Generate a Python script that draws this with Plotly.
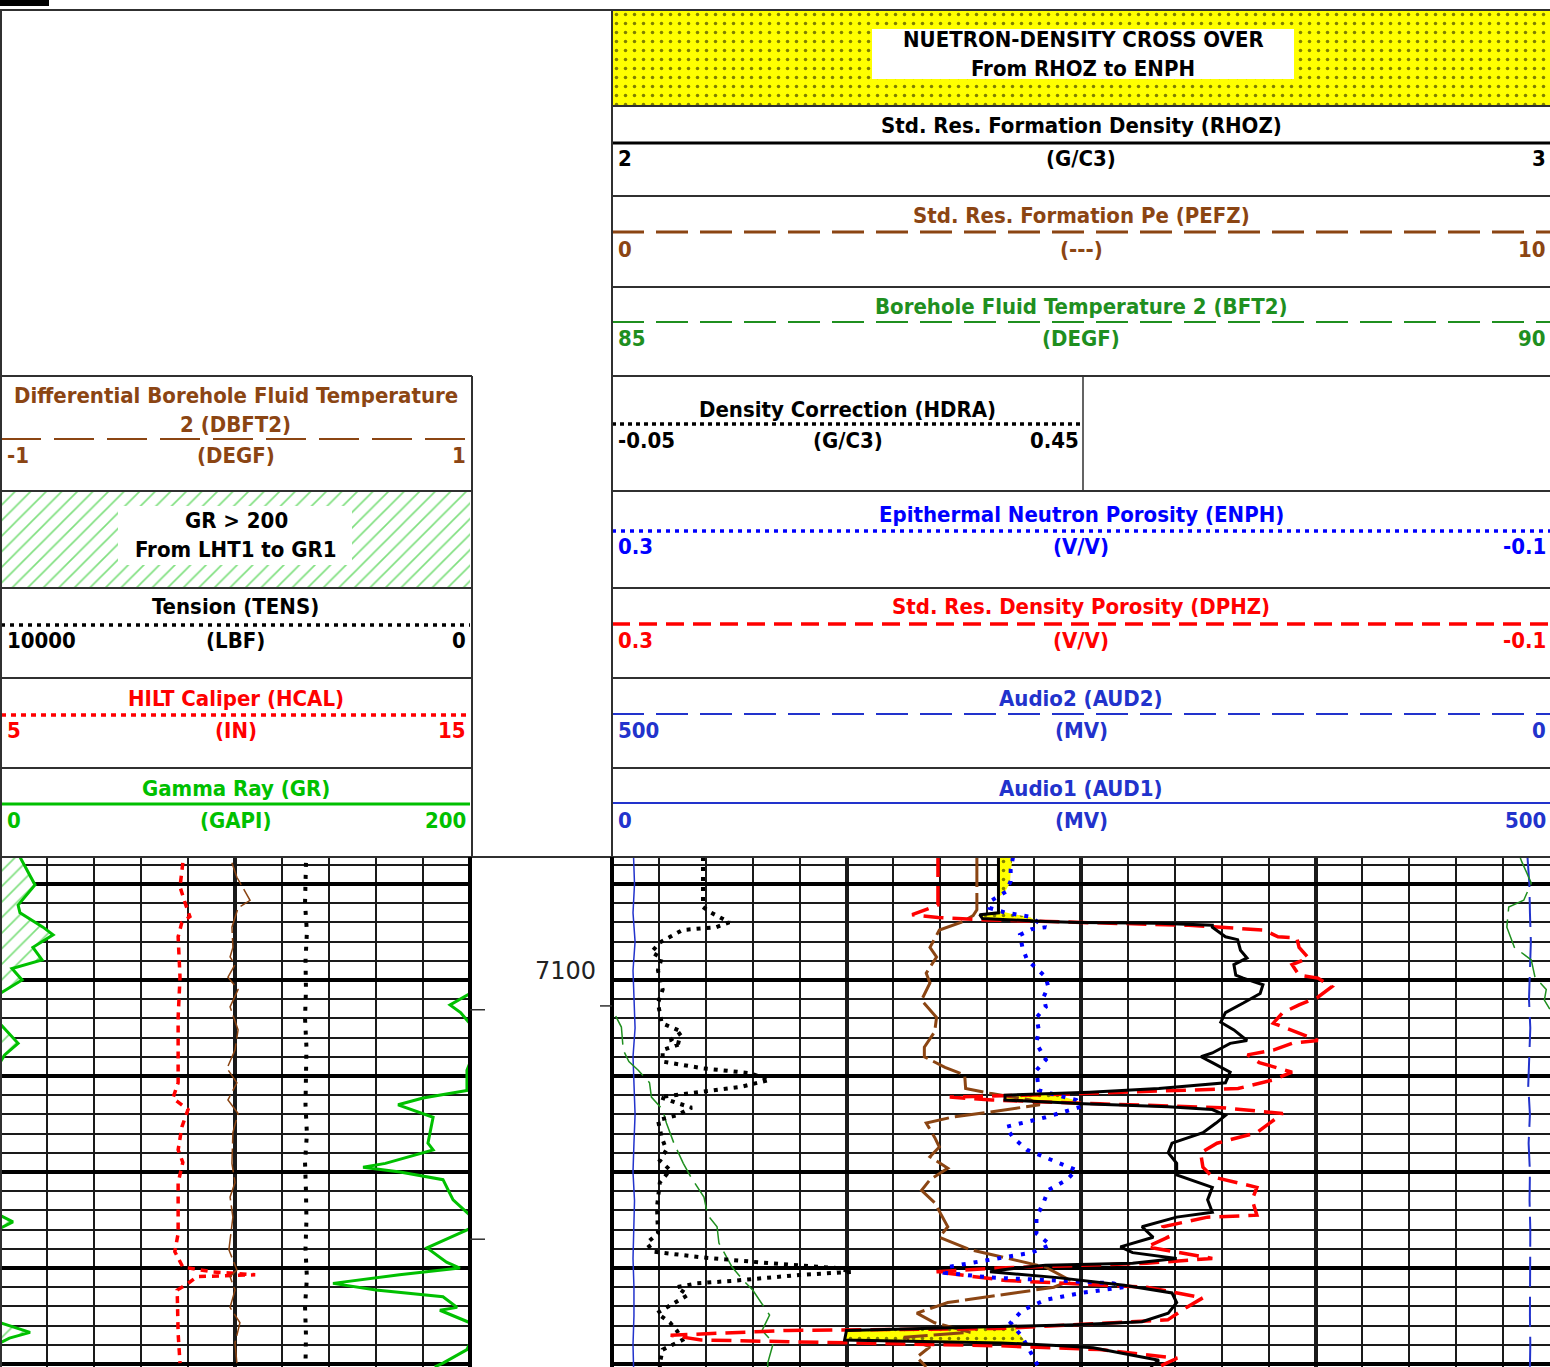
import numpy as np
import plotly.graph_objects as go

# ---------------------------------------------------------------------------
# Log curves: (depth ft, value) samples
# ---------------------------------------------------------------------------
GR_LOG = [(7087.2, 208.5), (7087.8, 209.8), (7090.1, 214.9), (7092.2, 207.7), (7093.0, 208.5),
          (7094.5, 218.3), (7095.3, 222.6), (7096.6, 214.0), (7097.9, 217.9), (7098.8, 205.1),
          (7100.0, 209.4), (7101.4, 200.0), (7102.1, 195.0), (7102.6, 191.5), (7103.4, 196.0),
          (7104.7, 200.5), (7106.6, 207.7), (7107.8, 202.0), (7108.6, 200.0), (7109.4, 198.7),
          (7111.5, 198.7), (7112.3, 180.0), (7113.0, 169.4), (7114.3, 184.3), (7117.0, 182.1),
          (7117.7, 184.3), (7119.1, 164.0), (7119.5, 154.5), (7120.0, 170.2), (7120.8, 188.5),
          (7122.9, 192.8), (7124.5, 200.0), (7125.2, 205.5), (7126.0, 199.0), (7127.9, 181.7),
          (7129.4, 190.0), (7130.0, 195.7), (7130.7, 170.0), (7131.6, 141.7), (7132.3, 160.0),
          (7133.0, 188.5), (7134.1, 194.5), (7134.4, 187.2), (7135.7, 200.0), (7136.7, 212.8),
          (7137.3, 204.0), (7137.8, 200.0), (7138.5, 198.7), (7139.9, 188.5), (7140.3, 185.0)]

HCAL_LOG = [(7087.8, 8.89), (7090.3, 8.83), (7092.0, 8.94), (7093.4, 9.04), (7094.0, 8.87),
            (7095.5, 8.79), (7099.7, 8.83), (7103.9, 8.79), (7110.7, 8.79), (7112.3, 8.68),
            (7113.5, 9.00), (7115.3, 8.87), (7117.7, 8.79), (7119.0, 8.89), (7121.1, 8.79),
            (7126.4, 8.79), (7128.3, 8.72), (7129.9, 8.89), (7130.4, 9.53), (7130.7, 10.43),
            (7130.9, 9.19), (7131.6, 9.00), (7132.3, 8.77), (7136.8, 8.79), (7139.9, 8.83)]

DBFT2_LOG = [(7087.8, -0.013), (7089.3, 0.008), (7091.7, 0.064), (7092.5, 0.013), (7094.5, -0.013),
             (7096.6, -0.009), (7097.6, -0.021), (7098.4, 0.0), (7099.7, -0.030), (7101.0, 0.013),
             (7102.8, -0.021), (7105.2, 0.013), (7107.3, 0.0), (7109.2, -0.034), (7110.7, 0.008),
             (7112.5, -0.030), (7113.9, 0.013), (7115.9, -0.009), (7119.1, -0.013), (7121.1, 0.0),
             (7122.6, -0.021), (7124.7, -0.009), (7128.1, -0.026), (7130.2, 0.008), (7130.9, -0.021),
             (7132.3, 0.0), (7134.1, -0.021), (7135.7, 0.021), (7137.8, 0.0), (7139.9, 0.008)]

TENS_LOG = [(7087.8, 3490), (7092.0, 3510), (7095.0, 3470), (7098.0, 3500), (7101.0, 3490),
            (7104.0, 3510), (7107.0, 3480), (7110.0, 3490), (7113.0, 3500), (7116.0, 3470),
            (7119.0, 3510), (7122.0, 3490), (7125.0, 3480), (7128.0, 3500), (7131.0, 3470),
            (7134.0, 3510), (7137.0, 3490), (7140.0, 3500)]

RHOZ_LOG = [(7087.2, 2.412), (7093.0, 2.412), (7093.2, 2.392), (7093.6, 2.395), (7093.9, 2.462),
            (7094.0, 2.499), (7094.1, 2.583), (7094.3, 2.640), (7094.5, 2.640), (7095.5, 2.654),
            (7095.8, 2.667), (7096.9, 2.670), (7097.7, 2.677), (7098.4, 2.663), (7099.5, 2.665),
            (7099.8, 2.673), (7100.5, 2.694), (7101.4, 2.691), (7102.4, 2.673), (7103.4, 2.654),
            (7104.4, 2.649), (7105.2, 2.663), (7106.3, 2.677), (7106.6, 2.659), (7107.6, 2.640),
            (7108.0, 2.628), (7108.6, 2.640), (7109.6, 2.659), (7110.7, 2.654), (7111.3, 2.583),
            (7111.7, 2.509), (7112.0, 2.419), (7112.5, 2.419), (7112.9, 2.503), (7113.2, 2.593),
            (7113.5, 2.640), (7114.1, 2.654), (7114.9, 2.644), (7115.9, 2.630), (7117.0, 2.597),
            (7118.0, 2.593), (7119.1, 2.602), (7120.3, 2.602), (7121.6, 2.640), (7122.9, 2.635),
            (7124.2, 2.640), (7124.7, 2.602), (7125.7, 2.565), (7126.8, 2.577), (7127.8, 2.542),
            (7128.4, 2.555), (7129.0, 2.602), (7129.5, 2.555), (7129.7, 2.462), (7130.2, 2.415),
            (7130.4, 2.403), (7131.0, 2.475), (7131.8, 2.546), (7132.6, 2.597), (7133.6, 2.602),
            (7134.7, 2.593), (7135.6, 2.565), (7135.9, 2.495), (7136.3, 2.311), (7136.5, 2.250),
            (7137.5, 2.248), (7137.8, 2.415), (7138.1, 2.479), (7138.3, 2.513), (7139.6, 2.583),
            (7140.3, 2.574)]

ENPH_LOG = [(7087.2, 0.129), (7088.5, 0.130), (7089.7, 0.130), (7090.8, 0.132), (7091.7, 0.138),
            (7092.5, 0.139), (7093.0, 0.132), (7093.2, 0.127), (7093.4, 0.122), (7094.5, 0.115),
            (7094.7, 0.121), (7095.3, 0.126), (7096.6, 0.125), (7097.9, 0.123), (7098.8, 0.119),
            (7099.7, 0.115), (7100.7, 0.114), (7101.8, 0.116), (7102.8, 0.115), (7103.9, 0.119),
            (7105.2, 0.118), (7106.6, 0.119), (7108.3, 0.115), (7109.4, 0.119), (7111.5, 0.118),
            (7112.5, 0.102), (7113.2, 0.100), (7114.3, 0.115), (7115.3, 0.132), (7116.4, 0.129),
            (7117.7, 0.123), (7118.8, 0.112), (7119.8, 0.102), (7120.8, 0.106), (7121.9, 0.114),
            (7123.2, 0.116), (7124.7, 0.119), (7126.4, 0.119), (7127.6, 0.113), (7128.4, 0.121),
            (7129.2, 0.140), (7129.9, 0.157), (7130.5, 0.158), (7131.0, 0.138), (7131.3, 0.110),
            (7131.6, 0.086), (7132.0, 0.082), (7132.6, 0.100), (7133.3, 0.115), (7134.4, 0.125),
            (7135.7, 0.130), (7137.2, 0.125), (7139.9, 0.119), (7140.3, 0.118)]

DPHZ_LOG = [(7087.2, 0.161), (7092.2, 0.161), (7093.2, 0.172), (7093.5, 0.161), (7093.75, 0.140),
            (7094.0, 0.100), (7094.3, 0.054), (7094.8, 0.022), (7095.5, 0.016), (7095.6, 0.008),
            (7096.6, 0.007), (7097.7, 0.003), (7098.4, 0.010), (7099.5, 0.007), (7099.8, -0.001),
            (7100.7, -0.007), (7101.8, -0.001), (7102.6, 0.007), (7103.4, 0.014), (7104.5, 0.018),
            (7105.5, 0.007), (7106.3, -0.001), (7106.6, 0.010), (7107.3, 0.018), (7107.8, 0.029),
            (7108.6, 0.024), (7109.6, 0.010), (7110.4, 0.018), (7111.3, 0.033), (7111.5, 0.055),
            (7111.9, 0.109), (7112.2, 0.156), (7112.5, 0.138), (7112.9, 0.092), (7113.3, 0.040),
            (7113.9, 0.014), (7114.6, 0.018), (7115.9, 0.025), (7117.0, 0.042), (7118.0, 0.049),
            (7119.5, 0.048), (7120.5, 0.044), (7121.6, 0.025), (7122.9, 0.027), (7124.5, 0.025),
            (7124.7, 0.046), (7125.7, 0.065), (7126.8, 0.063), (7127.8, 0.072), (7129.0, 0.044),
            (7129.5, 0.072), (7130.0, 0.135), (7130.4, 0.162), (7130.7, 0.152), (7131.3, 0.132),
            (7132.0, 0.072), (7133.1, 0.048), (7134.1, 0.055), (7135.4, 0.063), (7135.7, 0.086),
            (7136.3, 0.135), (7136.5, 0.225), (7137.0, 0.275), (7137.5, 0.262), (7137.8, 0.199),
            (7138.1, 0.135), (7138.5, 0.092), (7139.4, 0.059), (7140.3, 0.067)]

PEFZ_LOG = [(7087.2, 3.89), (7092.7, 3.89), (7093.3, 3.85), (7094.0, 3.72), (7094.8, 3.49),
            (7096.6, 3.39), (7097.6, 3.46), (7099.3, 3.35), (7100.3, 3.39), (7102.1, 3.30),
            (7103.9, 3.46), (7105.4, 3.44), (7107.0, 3.33), (7108.0, 3.33), (7109.1, 3.55),
            (7109.9, 3.76), (7111.3, 3.77), (7111.8, 4.03), (7112.5, 4.46), (7113.0, 4.56),
            (7113.75, 4.03), (7114.3, 3.62), (7114.9, 3.35), (7116.4, 3.44), (7117.4, 3.49),
            (7118.4, 3.39), (7119.6, 3.58), (7120.8, 3.39), (7121.9, 3.30), (7123.2, 3.44),
            (7125.7, 3.58), (7126.8, 3.49), (7128.1, 3.82), (7129.2, 4.29), (7129.9, 4.62),
            (7131.3, 4.89), (7132.0, 4.71), (7132.6, 4.29), (7133.6, 3.58), (7134.7, 3.25),
            (7135.7, 3.44), (7136.7, 3.82), (7137.2, 3.11), (7138.2, 3.39), (7139.3, 3.25),
            (7140.3, 3.35)]

HDRA_LOG = [(7087.2, 0.047), (7092.4, 0.047), (7092.9, 0.054), (7094.0, 0.075), (7094.5, 0.061),
            (7094.6, 0.047), (7094.8, 0.025), (7095.5, 0.012), (7096.1, 0.001), (7097.1, -0.008),
            (7097.7, 0.003), (7099.0, -0.001), (7100.0, 0.001), (7101.0, 0.004), (7102.4, -0.001),
            (7104.5, 0.003), (7105.4, 0.025), (7106.3, 0.012), (7106.6, 0.025), (7107.3, 0.004),
            (7108.5, 0.004), (7109.2, 0.047), (7109.7, 0.097), (7110.4, 0.118), (7111.1, 0.089),
            (7111.7, 0.040), (7112.2, 0.001), (7112.8, 0.019), (7113.3, 0.035), (7114.1, 0.019),
            (7114.6, -0.001), (7116.4, 0.003), (7117.7, 0.008), (7118.8, 0.001), (7119.8, 0.012),
            (7121.1, 0.001), (7123.6, -0.002), (7126.4, -0.001), (7127.4, -0.013), (7128.3, -0.006),
            (7128.9, 0.047), (7129.5, 0.118), (7130.0, 0.189), (7130.4, 0.206), (7130.7, 0.153),
            (7131.3, 0.083), (7131.6, 0.040), (7132.0, 0.019), (7132.8, 0.031), (7133.9, 0.012),
            (7134.7, -0.002), (7135.7, 0.012), (7136.5, 0.019), (7137.5, 0.025), (7138.5, 0.004),
            (7139.9, 0.001), (7140.3, 0.001)]

BFT2_LOG = [(7087.2, 89.84), (7087.7, 89.85), (7089.9, 89.90), (7091.7, 89.86), (7092.4, 89.78),
            (7094.5, 89.77), (7096.6, 89.81), (7097.9, 89.90), (7099.7, 89.92), (7101.0, 89.98),
            (7102.1, 89.97), (7103.4, 90.01), (7104.9, 90.05), (7107.3, 90.06), (7108.5, 90.09),
            (7109.4, 90.14), (7110.7, 90.20), (7112.2, 90.21), (7113.5, 90.27), (7114.9, 90.29),
            (7117.0, 90.33), (7119.1, 90.38), (7120.5, 90.42), (7122.6, 90.49), (7124.5, 90.51),
            (7125.7, 90.56), (7127.4, 90.57), (7129.9, 90.64), (7131.3, 90.70), (7132.3, 90.75),
            (7134.9, 90.84), (7136.5, 90.80), (7137.8, 90.86), (7139.9, 90.83), (7140.3, 90.83)]

AUD1_LOG = [(7087.2, 11.5), (7090.0, 12.0), (7093.0, 11.2), (7096.0, 12.3), (7099.0, 11.2),
            (7102.0, 11.7), (7105.0, 12.3), (7108.0, 11.2), (7111.0, 11.7), (7114.0, 12.3),
            (7117.0, 11.7), (7120.0, 11.2), (7123.0, 12.0), (7126.0, 11.7), (7129.0, 11.2),
            (7132.0, 11.7), (7135.0, 11.7), (7138.0, 11.2), (7140.3, 11.5)]

AUD2_LOG = [(7087.2, 12.0), (7090.0, 11.0), (7093.0, 10.7), (7096.0, 10.2), (7099.0, 10.7),
            (7102.0, 11.2), (7105.0, 10.5), (7108.0, 10.9), (7111.0, 11.6), (7114.0, 10.7),
            (7117.0, 11.4), (7120.0, 10.7), (7123.0, 10.9), (7126.0, 10.5), (7129.0, 10.7),
            (7132.0, 10.9), (7135.0, 10.7), (7138.0, 10.5), (7140.3, 10.7)]

DEPTH_LABELS = [7100]
DEPTH_MARKS = [7103.1, 7127.0]       # marks on the left edge of the depth column
DEPTH_MARKS_R = [7102.7]             # marks on the right edge of the depth column

# track scales
GR_RANGE = (0, 200)
HCAL_RANGE = (5, 15)
DBFT2_RANGE = (-1, 1)
TENS_RANGE = (10000, 0)
RHOZ_RANGE = (2, 3)
PEFZ_RANGE = (0, 10)
BFT2_RANGE = (85, 90)
HDRA_RANGE = (-0.05, 0.45)
ENPH_RANGE = (0.3, -0.1)
DPHZ_RANGE = (0.3, -0.1)
AUD2_RANGE = (500, 0)
AUD1_RANGE = (0, 500)

# ---------------------------------------------------------------------------
W, H = 1550, 1367
FONT = "DejaVu Sans Condensed"
DEPTH_FONT = "DejaVu Sans, Liberation Sans, Arial, sans-serif"
BLACK = "#000000"
BROWN = "#8B4513"
GREEN = "#00C000"
DKGREEN = "#1F8F1F"
RED = "#FF0000"
BLUE = "#0000FF"
AUDBLUE = "#2233CC"
FRAME = "#303030"
GRID = "#1a1a1a"


def px(x):
    return x / W


def py(y):
    return 1 - y / H


def unzip(pairs):
    d, v = zip(*pairs)
    return np.array(d, float), np.array(v, float)


DEPTH_TOP, DEPTH_BOT = 7087.19, 7140.31
LEFT_DOM = [0.0, px(470)]
RIGHT_DOM = [px(612), 1.0]
LOG_DOM = [0.0, py(857)]

fig = go.Figure()
layout = {}

# base axes carry the grid of each track
base_x = dict(showticklabels=False, ticks="", zeroline=False, showline=False,
              showgrid=True, gridcolor=GRID, gridwidth=4, dtick=5, tick0=0,
              minor=dict(dtick=1, tick0=0, showgrid=True, gridcolor=GRID, gridwidth=2, ticks=""),
              fixedrange=True, anchor="y")
layout["xaxis"] = dict(base_x, domain=LEFT_DOM, range=[0, 10])
layout["xaxis2"] = dict(base_x, domain=RIGHT_DOM, range=[0, 20])
layout["yaxis"] = dict(domain=LOG_DOM, range=[DEPTH_BOT, DEPTH_TOP], showticklabels=False,
                       ticks="", zeroline=False, showline=False, showgrid=True,
                       gridcolor="black", gridwidth=4, dtick=10, tick0=7100,
                       minor=dict(dtick=2, tick0=7100, showgrid=True, gridcolor=GRID,
                                  gridwidth=2, ticks=""),
                       anchor="x", fixedrange=True)
for xa in ("x", "x2"):
    fig.add_trace(go.Scatter(x=[None], y=[None], xaxis=xa, yaxis="y", mode="lines",
                             hoverinfo="skip", showlegend=False))

axis_n = [3]


def curve_axis(rng, dom):
    """A stacked x/y axis pair over a track, sharing the depth scale."""
    axis_n[0] += 1
    n = axis_n[0]
    layout[f"xaxis{n}"] = dict(range=list(rng), domain=dom, visible=False, showgrid=False,
                               zeroline=False, anchor=f"y{n}", fixedrange=True)
    layout[f"yaxis{n}"] = dict(range=[DEPTH_BOT, DEPTH_TOP], domain=LOG_DOM, visible=False,
                               showgrid=False, zeroline=False, anchor=f"x{n}", fixedrange=True)
    return f"x{n}", f"y{n}"


def add_curve(axes, pairs, color, width, dash="solid", **kw):
    d, v = unzip(pairs)
    fig.add_trace(go.Scatter(x=v, y=d, xaxis=axes[0], yaxis=axes[1], mode="lines",
                             line=dict(color=color, width=width, dash=dash),
                             hoverinfo="skip", showlegend=False, **kw))


# ---------------- left track ----------------
add_curve(curve_axis((GR_RANGE[1], 2 * GR_RANGE[1] - GR_RANGE[0]), LEFT_DOM), GR_LOG, GREEN, 3,
          fill="tozerox",
          fillpattern=dict(shape="/", fgcolor=GREEN, bgcolor="white", size=11, solidity=0.15))
add_curve(curve_axis(GR_RANGE, LEFT_DOM), GR_LOG, GREEN, 3)
add_curve(curve_axis(HCAL_RANGE, LEFT_DOM), HCAL_LOG, RED, 3.5, "7px,6px")
add_curve(curve_axis(DBFT2_RANGE, LEFT_DOM), DBFT2_LOG, BROWN, 1.5, "24px,5px")
add_curve(curve_axis(TENS_RANGE, LEFT_DOM), TENS_LOG, BLACK, 4, "4px,8px")

# ---------------- right track ----------------
# neutron-density crossover: fill where ENPH lies right of RHOZ
rd, rv = unzip(RHOZ_LOG)
ed, ev = unzip(ENPH_LOG)
grid = np.arange(DEPTH_TOP, DEPTH_BOT + 0.01, 0.02)
rz = np.interp(grid, rd, rv)
en = np.interp(grid, ed, ev)
en_on_rhoz = RHOZ_RANGE[0] + (en - ENPH_RANGE[0]) / (ENPH_RANGE[1] - ENPH_RANGE[0]) * \
    (RHOZ_RANGE[1] - RHOZ_RANGE[0])
edge = np.maximum(rz, en_on_rhoz)
xo = curve_axis(RHOZ_RANGE, RIGHT_DOM)
fig.add_trace(go.Scatter(x=rz, y=grid, xaxis=xo[0], yaxis=xo[1], mode="lines",
                         line=dict(width=0, color="rgba(0,0,0,0)"), hoverinfo="skip",
                         showlegend=False))
fig.add_trace(go.Scatter(x=edge, y=grid, xaxis=xo[0], yaxis=xo[1], mode="lines", fill="tonextx",
                         line=dict(width=0, color="rgba(0,0,0,0)"),
                         fillpattern=dict(shape=".", fgcolor="black", bgcolor="#FFFF00",
                                          size=9, solidity=0.12),
                         hoverinfo="skip", showlegend=False))

add_curve(curve_axis(AUD1_RANGE, RIGHT_DOM), AUD1_LOG, AUDBLUE, 1.5)
add_curve(curve_axis(AUD2_RANGE, RIGHT_DOM), AUD2_LOG, AUDBLUE, 2, "30px,10px")
add_curve(curve_axis(BFT2_RANGE, RIGHT_DOM), BFT2_LOG, DKGREEN, 1.5, "30px,8px")
bft_span = BFT2_RANGE[1] - BFT2_RANGE[0]
add_curve(curve_axis((BFT2_RANGE[1], BFT2_RANGE[1] + bft_span), RIGHT_DOM), BFT2_LOG, DKGREEN,
          1.5, "30px,8px")
# HDRA scale covers the left half of the track
hdra_span = HDRA_RANGE[1] - HDRA_RANGE[0]
add_curve(curve_axis((HDRA_RANGE[0], HDRA_RANGE[0] + 2 * hdra_span), RIGHT_DOM), HDRA_LOG,
          BLACK, 4, "4px,6px")
add_curve(curve_axis(PEFZ_RANGE, RIGHT_DOM), PEFZ_LOG, BROWN, 3, "30px,6px")
add_curve(curve_axis(DPHZ_RANGE, RIGHT_DOM), DPHZ_LOG, RED, 3.5, "20px,9px")
add_curve(curve_axis(ENPH_RANGE, RIGHT_DOM), ENPH_LOG, BLUE, 4, "4px,8px")
add_curve(curve_axis(RHOZ_RANGE, RIGHT_DOM), RHOZ_LOG, BLACK, 3)

# ---------------- header pattern panels ----------------
layout["xaxis40"] = dict(domain=[px(612), 1.0], range=[0, 1], visible=False, anchor="y40",
                         fixedrange=True)
layout["yaxis40"] = dict(domain=[py(106), py(10)], range=[0, 1], visible=False, anchor="x40",
                         fixedrange=True)
fig.add_trace(go.Scatter(x=[0, 1, 1, 0, 0], y=[0, 0, 1, 1, 0], xaxis="x40", yaxis="y40",
                         mode="lines", fill="toself", line=dict(width=0),
                         fillpattern=dict(shape=".", fgcolor="black", bgcolor="#FFFF00",
                                          size=9, solidity=0.12),
                         hoverinfo="skip", showlegend=False))
layout["xaxis41"] = dict(domain=[0.0, px(470)], range=[0, 1], visible=False, anchor="y41",
                         fixedrange=True)
layout["yaxis41"] = dict(domain=[py(588), py(491)], range=[0, 1], visible=False, anchor="x41",
                         fixedrange=True)
fig.add_trace(go.Scatter(x=[0, 1, 1, 0, 0], y=[0, 0, 1, 1, 0], xaxis="x41", yaxis="y41",
                         mode="lines", fill="toself", line=dict(width=0),
                         fillpattern=dict(shape="/", fgcolor=GREEN, bgcolor="white",
                                          size=11, solidity=0.15),
                         hoverinfo="skip", showlegend=False))

# ---------------- header frames, sample lines and text ----------------
shapes = []
annotations = []


def hline(x0, x1, y, color=FRAME, width=2, dash="solid"):
    shapes.append(dict(type="line", xref="paper", yref="paper", x0=px(x0), x1=px(x1),
                       y0=py(y), y1=py(y), line=dict(color=color, width=width, dash=dash)))


def vline(x, y0, y1, color=FRAME, width=2):
    shapes.append(dict(type="line", xref="paper", yref="paper", x0=px(x), x1=px(x),
                       y0=py(y0), y1=py(y1), line=dict(color=color, width=width)))


def box(x0, y0, x1, y1, fill):
    shapes.append(dict(type="rect", xref="paper", yref="paper", x0=px(x0), x1=px(x1),
                       y0=py(y1), y1=py(y0), fillcolor=fill, line=dict(width=0)))


def text(x, y, s, color=BLACK, anchor="center", size=22, bold=True):
    annotations.append(dict(x=px(x), y=py(y), xref="paper", yref="paper",
                            text=f"<b>{s}</b>" if bold else s, showarrow=False,
                            xanchor=anchor, yanchor="middle",
                            font=dict(family=FONT, size=size, color=color)))


def scale_block(x0, x1, title_rows, unit, lo, hi, color, y_line, y_lab, dash, width):
    for s, yy in title_rows:
        text((x0 + x1) / 2, yy, s, color)
    hline(x0, x1, y_line, color, width, dash)
    text(x0 + 4, y_lab, lo, color, "left")
    text((x0 + x1) / 2, y_lab, unit, color)
    text(x1 - 2, y_lab, hi, color, "right")


RX0, RX1 = 612, 1550
LX0, LX1 = 1, 470

scale_block(RX0, RX1, [("Std. Res. Formation Density (RHOZ)", 125)], "(G/C3)", "2", "3",
            BLACK, 143, 158, "solid", 3)
scale_block(RX0, RX1, [("Std. Res. Formation Pe (PEFZ)", 216)], "(---)", "0", "10",
            BROWN, 232, 249, "32px,12px", 3)
scale_block(RX0, RX1, [("Borehole Fluid Temperature 2 (BFT2)", 306)], "(DEGF)", "85", "90",
            DKGREEN, 322, 338, "32px,12px", 2)
scale_block(RX0, 1083, [("Density Correction (HDRA)", 409)], "(G/C3)", "-0.05", "0.45",
            BLACK, 424, 440, "4px,4px", 3.5)
scale_block(RX0, RX1, [("Epithermal Neutron Porosity (ENPH)", 515)], "(V/V)", "0.3", "-0.1",
            BLUE, 531, 546, "4px,5px", 3.5)
scale_block(RX0, RX1, [("Std. Res. Density Porosity (DPHZ)", 606)], "(V/V)", "0.3", "-0.1",
            RED, 624, 640, "18px,9px", 3.5)
scale_block(RX0, RX1, [("Audio2 (AUD2)", 698)], "(MV)", "500", "0",
            AUDBLUE, 714, 730, "32px,12px", 2)
scale_block(RX0, RX1, [("Audio1 (AUD1)", 788)], "(MV)", "0", "500",
            AUDBLUE, 803, 820, "solid", 2)

scale_block(LX0, LX1, [("Differential Borehole Fluid Temperature", 395), ("2 (DBFT2)", 424)],
            "(DEGF)", "-1", "1", BROWN, 439, 455, "40px,13px", 2)
scale_block(LX0, LX1, [("Tension (TENS)", 606)], "(LBF)", "10000", "0",
            BLACK, 625, 640, "4px,5px", 3.5)
scale_block(LX0, LX1, [("HILT Caliper (HCAL)", 698)], "(IN)", "5", "15",
            RED, 715, 730, "5px,5px", 3.5)
scale_block(LX0, LX1, [("Gamma Ray (GR)", 788)], "(GAPI)", "0", "200",
            GREEN, 804, 820, "solid", 3)

# fill legends
box(872, 29, 1294, 79, "white")
text(1083, 39, "NUETRON-DENSITY CROSS OVER")
text(1083, 68, "From RHOZ to ENPH")
box(118, 506, 352, 565, "white")
text(236, 520, "GR &gt; 200")
text(236, 549, "From LHT1 to GR1")

# panel frames
hline(0, W, 10)
for yy in (106, 196, 287):
    hline(RX0, W, yy)
for yy in (376, 491, 588, 678, 768):
    hline(0, 472, yy)
    hline(RX0, W, yy)
hline(0, W, 857)
vline(1, 10, H)
vline(472, 376, 857)
vline(RX0, 10, 857)
vline(1083, 376, 491, width=1.5)

# log track borders
vline(470, 857, H, BLACK, 4)
vline(RX0, 857, H, BLACK, 4)

# corner tab
box(0, 0, 49, 6, "black")

# depth column
for d in DEPTH_LABELS:
    annotations.append(dict(x=px(598), y=d, xref="paper", yref="y", text=str(d),
                            showarrow=False, xanchor="right", yanchor="middle", yshift=9,
                            font=dict(family=DEPTH_FONT, size=24, color="#222222")))
for d in DEPTH_MARKS:
    shapes.append(dict(type="line", xref="paper", yref="y", x0=px(470), x1=px(485), y0=d, y1=d,
                       line=dict(color=FRAME, width=1.5)))
for d in DEPTH_MARKS_R:
    shapes.append(dict(type="line", xref="paper", yref="y", x0=px(600), x1=px(612), y0=d, y1=d,
                       line=dict(color=FRAME, width=1.5)))

fig.update_layout(
    width=W, height=H, autosize=False,
    margin=dict(l=0, r=0, t=0, b=0, pad=0),
    paper_bgcolor="white", plot_bgcolor="rgba(0,0,0,0)",
    showlegend=False,
    shapes=shapes, annotations=annotations,
    **layout,
)

fig.write_html("out.html", config={"displayModeBar": False, "staticPlot": True})
